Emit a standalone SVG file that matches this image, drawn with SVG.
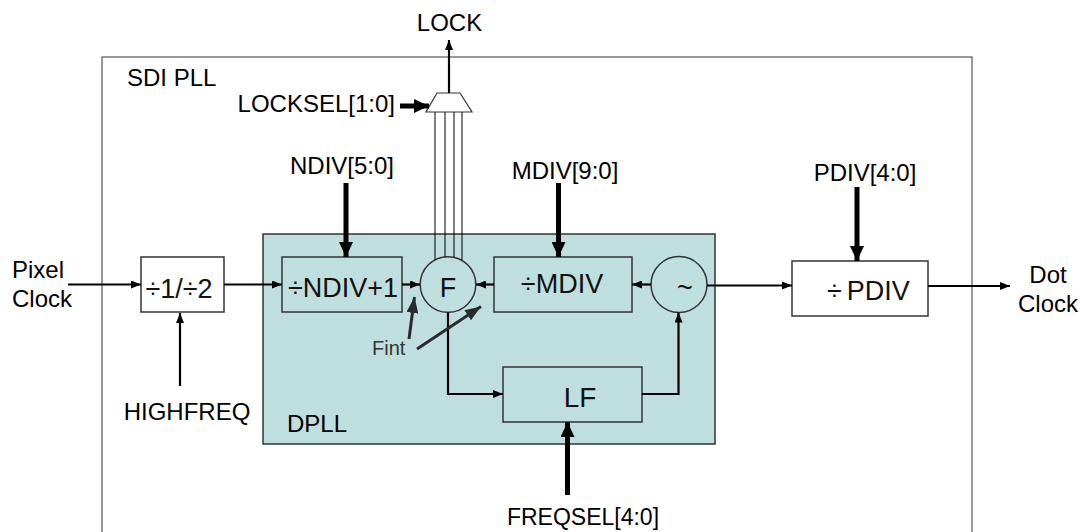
<svg xmlns="http://www.w3.org/2000/svg" width="1080" height="532" viewBox="0 0 1080 532">
<defs>
<style>
.lbl{font-family:"Liberation Sans",Arial,sans-serif;font-size:24px;fill:#000}
.blk{font-family:"Liberation Sans",Arial,sans-serif;font-size:27px;fill:#111}
.box{fill:none;stroke:#333;stroke-width:1.5}
.wbox{fill:#fff;stroke:#333;stroke-width:1.5}
.thin{fill:none;stroke:#000;stroke-width:2.2}
.thick{fill:none;stroke:#000;stroke-width:5}
.fine{fill:none;stroke:#000;stroke-width:1}
.fint{fill:none;stroke:#2b2b2b;stroke-width:3}
</style>
<marker id="ah" markerUnits="userSpaceOnUse" markerWidth="10" markerHeight="8" refX="10" refY="4" orient="auto"><path d="M0,0 L10,4 L0,8 z" fill="#000"/></marker>
<marker id="ahb" markerUnits="userSpaceOnUse" markerWidth="15" markerHeight="14" refX="15" refY="7" orient="auto"><path d="M0,0 L15,7 L0,14 z" fill="#000"/></marker>
<marker id="ahf" markerUnits="userSpaceOnUse" markerWidth="16" markerHeight="12" refX="16" refY="6" orient="auto"><path d="M0,0 L16,6 L0,12 z" fill="#2b2b2b"/></marker>
</defs>
<rect width="1080" height="532" fill="#fff"/>

<g id="sdi-pll">
<rect x="102" y="57" width="870" height="500" fill="none" stroke="#555" stroke-width="1.2"/>
<text class="lbl" x="127" y="86">SDI PLL</text>
</g>

<g id="dpll">
<rect x="263" y="234" width="452" height="210" fill="#bfdfdf" stroke="#333" stroke-width="1.5"/>
<text class="lbl" x="287" y="432">DPLL</text>
</g>

<g id="mux">
<polygon points="437,93 460,93 472,112 426,112" fill="#fff" stroke="#333" stroke-width="1.2"/>
</g>

<g id="div12">
<rect class="wbox" x="141" y="257" width="83" height="55"/>
<text class="blk" x="179" y="298" text-anchor="middle">÷1/÷2</text>
</g>

<g id="ndiv">
<rect class="box" x="282" y="257" width="120" height="55"/>
<text class="blk" x="343" y="297" text-anchor="middle">÷NDIV+1</text>
</g>

<g id="f">
<circle cx="448" cy="284.5" r="27.8" fill="none" stroke="#333" stroke-width="1.5"/>
<text class="blk" x="448" y="297" text-anchor="middle">F</text>
</g>

<g id="mdiv">
<rect class="box" x="494" y="257" width="138" height="55"/>
<text class="blk" x="562" y="293" text-anchor="middle">÷MDIV</text>
</g>

<g id="osc">
<circle cx="679" cy="284.5" r="28" fill="none" stroke="#333" stroke-width="1.5"/>
<text class="blk" x="685" y="297" text-anchor="middle">~</text>
</g>

<g id="lf">
<rect class="box" x="503" y="367" width="139" height="55"/>
<text class="blk" x="580" y="407" text-anchor="middle" style="font-size:28px">LF</text>
</g>

<g id="pdiv">
<rect class="wbox" x="792" y="261" width="136" height="55"/>
<text class="blk" x="827" y="300">÷<tspan dx="5">PDIV</tspan></text>
</g>

<g id="labels">
<text class="lbl" x="449.5" y="31" text-anchor="middle">LOCK</text>
<text class="lbl" x="395" y="112" text-anchor="end">LOCKSEL[1:0]</text>
<text class="lbl" x="342" y="174" text-anchor="middle">NDIV[5:0]</text>
<text class="lbl" x="565" y="179" text-anchor="middle">MDIV[9:0]</text>
<text class="lbl" x="865" y="181" text-anchor="middle">PDIV[4:0]</text>
<text class="lbl" x="12" y="278">Pixel</text>
<text class="lbl" x="12" y="307">Clock</text>
<text class="lbl" x="1048" y="283" text-anchor="middle">Dot</text>
<text class="lbl" x="1048" y="312" text-anchor="middle">Clock</text>
<text class="lbl" x="187" y="420" text-anchor="middle">HIGHFREQ</text>
<text class="lbl" x="583" y="525" text-anchor="middle" style="font-size:23px">FREQSEL[4:0]</text>
<text x="372" y="355" style="font-family:'Liberation Sans',Arial,sans-serif;font-size:20px;fill:#333">Fint</text>
</g>

<g id="connectors">
<line class="thin" x1="449" y1="93" x2="449" y2="40" marker-end="url(#ah)"/>
<line class="thick" x1="400" y1="106" x2="429" y2="106" marker-end="url(#ahb)"/>
<line class="fine" x1="435" y1="112" x2="435" y2="260"/>
<line class="fine" x1="445" y1="112" x2="445" y2="257"/>
<line class="fine" x1="454" y1="112" x2="454" y2="257"/>
<line class="fine" x1="462" y1="112" x2="462" y2="260"/>
<line class="thick" x1="346" y1="183" x2="346" y2="257" marker-end="url(#ahb)"/>
<line class="thick" x1="558.5" y1="183" x2="558.5" y2="257" marker-end="url(#ahb)"/>
<line class="thick" x1="857" y1="187" x2="857" y2="261" marker-end="url(#ahb)"/>
<line class="thick" x1="567.5" y1="495" x2="567.5" y2="422" marker-end="url(#ahb)"/>
<line class="thin" x1="68" y1="284.5" x2="141" y2="284.5" marker-end="url(#ah)"/>
<line class="thin" x1="180" y1="386" x2="180" y2="313" marker-end="url(#ah)"/>
<line class="thin" x1="224" y1="284.5" x2="282" y2="284.5" marker-end="url(#ah)"/>
<line class="thin" x1="402" y1="284.5" x2="420" y2="284.5" marker-end="url(#ah)"/>
<line class="thin" x1="494" y1="284.5" x2="476" y2="284.5" marker-end="url(#ah)"/>
<line class="thin" x1="651" y1="284.5" x2="632" y2="284.5" marker-end="url(#ah)"/>
<line class="thin" x1="707" y1="285.5" x2="792" y2="285.5" marker-end="url(#ah)"/>
<line class="thin" x1="928" y1="286" x2="1010" y2="286" marker-end="url(#ah)"/>
<polyline class="thin" points="448,312 448,394 503,394" marker-end="url(#ah)"/>
<polyline class="thin" points="642,394 678.5,394 678.5,312.5" marker-end="url(#ah)"/>
<line class="fint" x1="409" y1="339" x2="414.5" y2="297" marker-end="url(#ahf)"/>
<line class="fint" x1="417" y1="349" x2="481" y2="306.5" marker-end="url(#ahf)"/>
</g>
</svg>
